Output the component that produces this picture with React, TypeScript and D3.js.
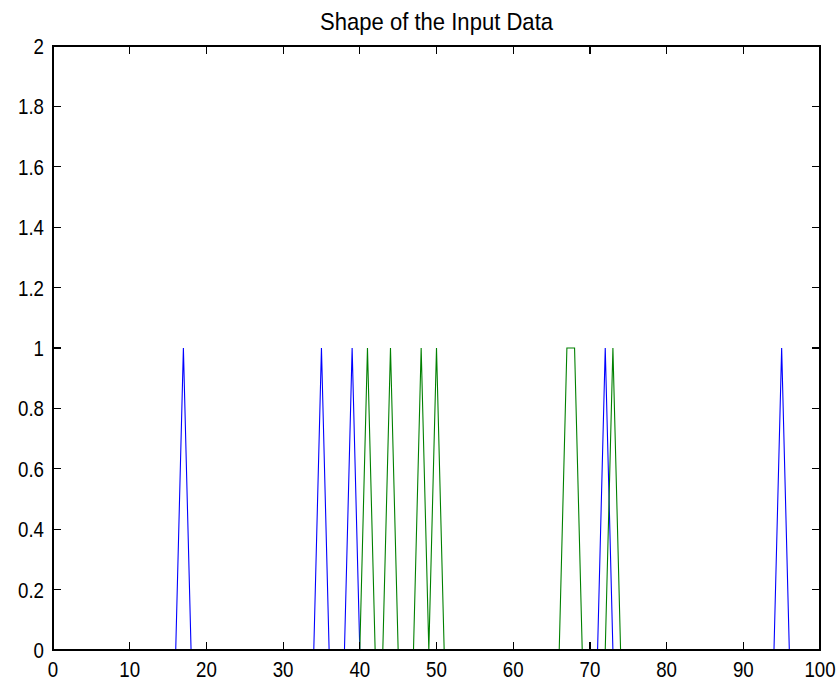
import React from "react";
import * as d3 from "d3";

// series: sample positions and values
const blueX = [0, 16, 17, 18, 34, 35, 36, 38, 39, 40, 71, 72, 73, 94, 95, 96, 100];
const blueY = [0, 0, 1, 0, 0, 1, 0, 0, 1, 0, 0, 1, 0, 0, 1, 0, 0];
const greenX = [0, 40, 41, 42, 43, 44, 45, 47, 48, 49, 50, 51, 66, 67, 68, 69, 72, 73, 74, 100];
const greenY = [0, 0, 1, 0, 0, 1, 0, 0, 1, 0, 1, 0, 0, 1, 1, 0, 0, 1, 0, 0];

const xTicks = [0, 10, 20, 30, 40, 50, 60, 70, 80, 90, 100];
const yTicks = [0, 0.2, 0.4, 0.6, 0.8, 1, 1.2, 1.4, 1.6, 1.8, 2];

const title = "Shape of the Input Data";

const W = 840;
const H = 683;
const left = 53;
const right = 820;
const top = 46;
const bottom = 650;
const tickLen = 8;
const font = "'Liberation Sans', Arial, sans-serif";
const fontSize = 22;
const squeeze = 0.85;

export default function App() {
  const x = d3.scaleLinear().domain([0, 100]).range([left, right]);
  const y = d3.scaleLinear().domain([0, 2]).range([bottom, top]);

  const path = (xs: number[], ys: number[]) =>
    d3
      .line<number>()
      .x((d) => x(d))
      .y((_, i) => y(ys[i]))(xs) || "";

  const fmt = (v: number) => (v === 0 ? "0" : String(+v.toFixed(1)));

  return (
    <svg
      width={W}
      height={H}
      style={{ position: "absolute", left: 0, top: 0, background: "#fff" }}
    >
      <rect x={0} y={0} width={W} height={H} fill="#fff" />

      <path d={path(blueX, blueY)} fill="none" stroke="#0000ff" strokeWidth={1.1} />
      <path d={path(greenX, greenY)} fill="none" stroke="#008000" strokeWidth={1.1} />

      {/* box with inward ticks */}
      <g stroke="#000" strokeWidth={1.2} shapeRendering="crispEdges">
        <rect x={left} y={top} width={right - left} height={bottom - top} fill="none" />
        {xTicks.map((t) => (
          <g key={"xt" + t}>
            <line x1={x(t)} x2={x(t)} y1={bottom} y2={bottom - tickLen} />
            <line x1={x(t)} x2={x(t)} y1={top} y2={top + tickLen} />
          </g>
        ))}
        {yTicks.map((t) => (
          <g key={"yt" + t}>
            <line x1={left} x2={left + tickLen} y1={y(t)} y2={y(t)} />
            <line x1={right} x2={right - tickLen} y1={y(t)} y2={y(t)} />
          </g>
        ))}
      </g>

      <g fontFamily={font} fontSize={fontSize} fill="#000">
        {xTicks.map((t) => (
          <text
            key={"xl" + t}
            transform={`translate(${x(t)},${bottom + 27}) scale(${squeeze},1)`}
            textAnchor="middle"
          >
            {fmt(t)}
          </text>
        ))}
        {yTicks.map((t) => (
          <text
            key={"yl" + t}
            transform={`translate(${left - 9},${y(t) + 8}) scale(${squeeze},1)`}
            textAnchor="end"
          >
            {fmt(t)}
          </text>
        ))}
        <text
          transform={`translate(${(left + right) / 2},${top - 16}) scale(0.92,1)`}
          textAnchor="middle"
          fontSize={24}
        >
          {title}
        </text>
      </g>
    </svg>
  );
}
